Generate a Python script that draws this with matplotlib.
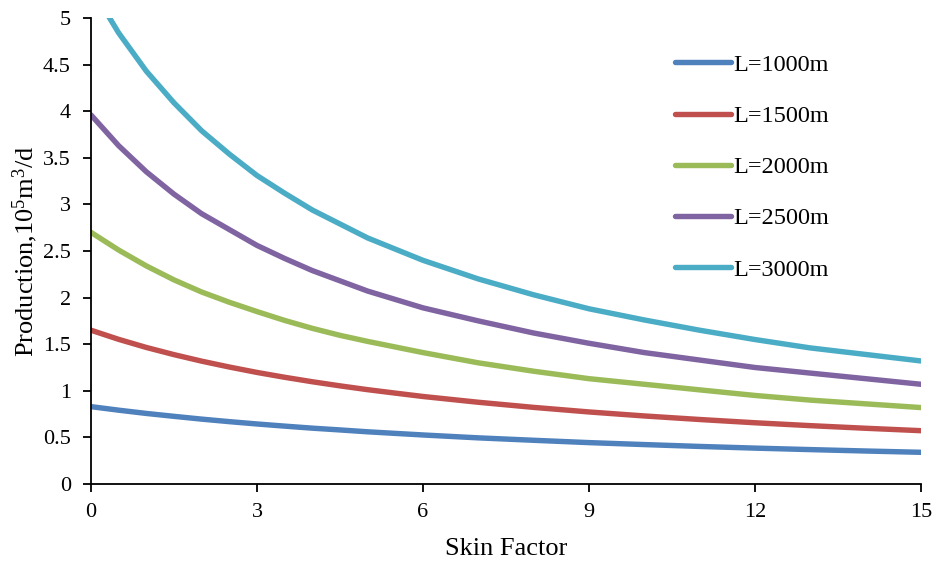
import matplotlib
matplotlib.use("Agg")
import matplotlib.pyplot as plt

plt.rcParams['font.family'] = ['Liberation Serif', 'DejaVu Serif']
plt.rcParams['mathtext.fontset'] = 'custom'
plt.rcParams['mathtext.rm'] = 'Liberation Serif'
plt.rcParams['mathtext.it'] = 'Liberation Serif:italic'

# Skin factor and production (10^5 m3/d) for each horizontal length
skin = [0, 0.5, 1, 1.5, 2, 2.5, 3, 3.5, 4, 4.5, 5, 5.5, 6,
        7, 8, 9, 10, 11, 12, 13, 14, 15]
q_1000 = [0.83, 0.792, 0.757, 0.726, 0.696, 0.669, 0.644, 0.621, 0.599,
          0.580, 0.560, 0.543, 0.526,
          0.495, 0.469, 0.444, 0.423, 0.403, 0.385, 0.369, 0.354, 0.340]
q_1500 = [1.65, 1.552, 1.465, 1.388, 1.318, 1.255, 1.197, 1.145, 1.097,
          1.053, 1.012, 0.975, 0.939,
          0.877, 0.822, 0.773, 0.730, 0.692, 0.657, 0.626, 0.598, 0.572]
q_2000 = [2.70, 2.51, 2.34, 2.19, 2.06, 1.95, 1.85, 1.755, 1.67,
          1.595, 1.53, 1.47, 1.41,
          1.30, 1.21, 1.13, 1.07, 1.01, 0.95, 0.90, 0.86, 0.82]
q_2500 = [3.96, 3.63, 3.35, 3.11, 2.90, 2.73, 2.56, 2.42, 2.29,
          2.18, 2.07, 1.98, 1.89,
          1.75, 1.62, 1.51, 1.41, 1.33, 1.25, 1.19, 1.13, 1.07]
q_3000 = [5.33, 4.84, 4.43, 4.09, 3.79, 3.54, 3.31, 3.12, 2.94,
          2.79, 2.64, 2.52, 2.40,
          2.20, 2.03, 1.88, 1.76, 1.65, 1.55, 1.46, 1.39, 1.32]

labels = ['L=1000m', 'L=1500m', 'L=2000m', 'L=2500m', 'L=3000m']
series = [q_1000, q_1500, q_2000, q_2500, q_3000]
colors = ['#4F81BD', '#C0504D', '#9BBB59', '#8064A2', '#4BACC6']

fig = plt.figure(figsize=(9.34, 5.62), dpi=100)
ax = fig.add_axes([0.0974, 0.1388, 0.8886, 0.8292])

for q, lab, c in zip(series, labels, colors):
    ax.plot(skin, q, color=c, lw=3.9, label=lab, solid_capstyle='round',
            solid_joinstyle='round')

ax.set_xlim(0, 15)
ax.set_ylim(0, 5)
ax.set_xticks([0, 3, 6, 9, 12, 15])
ax.set_yticks([0, 0.5, 1, 1.5, 2, 2.5, 3, 3.5, 4, 4.5, 5])
ax.set_yticklabels(['0', '0.5', '1', '1.5', '2', '2.5', '3', '3.5', '4', '4.5', '5'])

for side in ['top', 'right']:
    ax.spines[side].set_visible(False)
for side in ['left', 'bottom']:
    ax.spines[side].set_linewidth(1.3)
ax.tick_params(axis='both', direction='out', length=6, width=1.3,
               labelsize=16)
ax.tick_params(axis='x', pad=7.5)
ax.tick_params(axis='y', pad=8.5)

ax.set_xlabel('Skin Factor', fontsize=19, labelpad=12)
ax.set_ylabel('Production,10$^5$m$^3$/d', fontsize=19, labelpad=2)

ax.legend(loc='upper left', bbox_to_anchor=(0.677, 0.97), frameon=False,
          fontsize=17.5, handlelength=2.3, handletextpad=0.1,
          labelspacing=1.2)

fig.savefig('out.png', dpi=100)
